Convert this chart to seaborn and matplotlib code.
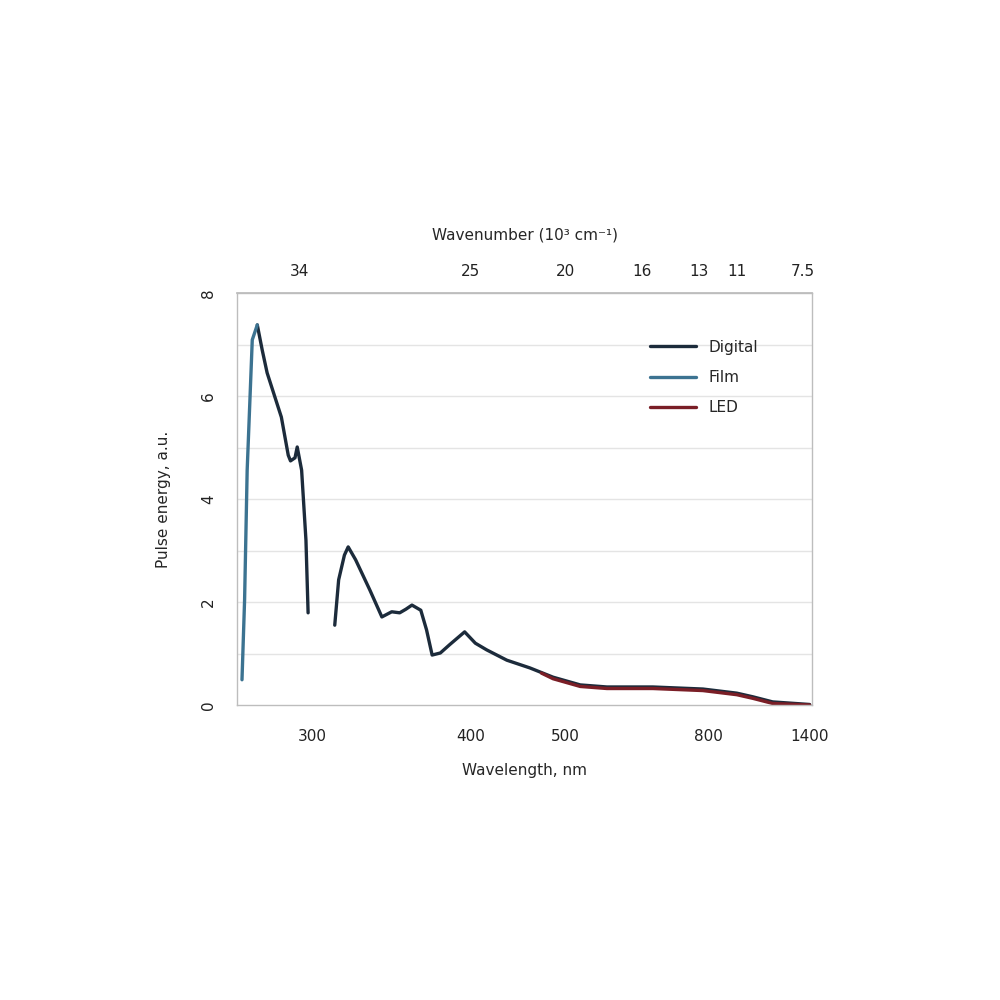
import numpy as np
import pandas as pd
import seaborn as sns
import matplotlib.pyplot as plt

# ----------------------------------------
# Data (wavelength in nm, intensity in a.u.)
# ----------------------------------------
film_nm = [270, 271, 272, 274, 276]
film_val = [0.49, 2.04, 4.56, 7.09, 7.38]

orig_nm_a = [276, 278, 280, 286, 289, 290, 292, 293, 295, 297, 298]
orig_val_a = [7.38, 6.89, 6.45, 5.59, 4.85, 4.74, 4.80, 5.01, 4.56, 3.20, 1.79]

orig_nm_b = [311, 313, 316, 318, 322, 330, 337, 343, 348, 352, 356, 362,
             366, 370, 376, 383, 395, 404, 414, 433, 457, 484, 520, 561,
             649, 783, 910, 985, 1099, 1398]
orig_val_b = [1.55, 2.43, 2.91, 3.07, 2.82, 2.23, 1.71, 1.81, 1.79, 1.86, 1.94, 1.84,
              1.46, 0.97, 1.01, 1.17, 1.42, 1.20, 1.07, 0.87, 0.72, 0.54, 0.39, 0.35,
              0.35, 0.31, 0.23, 0.16, 0.06, 0.01]

led_nm = [470, 484, 520, 561, 649, 783, 910, 985, 1099, 1398]
led_val = [0.62, 0.51, 0.36, 0.32, 0.32, 0.28, 0.20, 0.13, 0.03, 0.0]

series_names = ["Digital", "Film", "LED"]
series_colors = ["#1c2b3b", "#3c7391", "#7a1e26"]

bottom_ticks_nm = [300, 400, 500, 800, 1400]
top_ticks_k = [34, 25, 20, 16, 13, 11, 7.5]
top_tick_labels = ["34", "25", "20", "16", "13", "11", "7.5"]
y_ticks = [0, 2, 4, 6, 8]

# ----------------------------------------
# Long table for seaborn
# ----------------------------------------
frames = [
    pd.DataFrame({"nm": orig_nm_a, "val": orig_val_a, "series": "Digital", "seg": "a"}),
    pd.DataFrame({"nm": orig_nm_b, "val": orig_val_b, "series": "Digital", "seg": "b"}),
    pd.DataFrame({"nm": film_nm, "val": film_val, "series": "Film", "seg": "c"}),
    pd.DataFrame({"nm": led_nm, "val": led_val, "series": "LED", "seg": "d"}),
]
df = pd.concat(frames, ignore_index=True)
# x axis is linear in wavenumber (10^3 cm^-1)
df["k"] = 1e4 / df["nm"]

sns.set_theme(style="white")
plt.rcParams["font.family"] = ["DejaVu Sans"]

fig = plt.figure(figsize=(10, 10), dpi=100)
ax = fig.add_axes([0.237, 0.295, 0.575, 0.412])

sns.lineplot(data=df, x="k", y="val", hue="series", units="seg",
             estimator=None, sort=False, hue_order=series_names,
             palette=series_colors, linewidth=2.4, ax=ax, legend=False)

ax.set_xlim(37.3, 7.03)
ax.set_ylim(0, 8)

# grid lines every unit
for y in range(1, 8):
    ax.axhline(y, color="#e4e4e4", linewidth=1.0, zorder=0)

ax.set_xticks([1e4 / v for v in bottom_ticks_nm])
ax.set_xticklabels([str(v) for v in bottom_ticks_nm])
ax.set_yticks(y_ticks)
ax.set_yticklabels([str(v) for v in y_ticks], rotation=90, va="center")
ax.tick_params(axis="x", labelsize=11, colors="#222222", length=3, pad=14)
ax.tick_params(axis="y", labelsize=11, colors="#222222", length=3, pad=12)
ax.set_xlabel("Wavelength, nm", fontsize=11, labelpad=14)
ax.set_ylabel("Pulse energy, a.u.", fontsize=11, labelpad=22)

for s in ax.spines.values():
    s.set_color("#bdbdbd")
    s.set_linewidth(1.0)

top = ax.secondary_xaxis("top")
top.set_xticks(top_ticks_k)
top.set_xticklabels(top_tick_labels)
top.tick_params(labelsize=11, colors="#222222", length=0, pad=10)
top.set_xlabel("Wavenumber (10³ cm⁻¹)", fontsize=11, labelpad=18)
top.spines["top"].set_color("#bdbdbd")

handles = [plt.Line2D([], [], color=c, linewidth=2.4) for c in series_colors]
ax.legend(handles, series_names, loc="upper right", bbox_to_anchor=(0.93, 0.92),
          frameon=False, fontsize=11, handlelength=3.0, labelspacing=1.0)

fig.savefig("out.png", dpi=100)
